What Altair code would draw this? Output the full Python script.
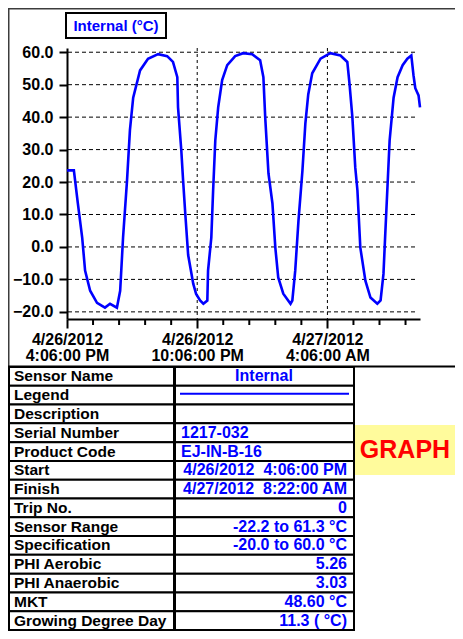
import altair as alt
import pandas as pd

# ---------------- data ----------------
times = [
    "2012-04-26T16:06", "2012-04-26T16:25", "2012-04-26T16:36", "2012-04-26T16:48",
    "2012-04-26T16:56", "2012-04-26T17:10", "2012-04-26T17:29", "2012-04-26T17:51",
    "2012-04-26T18:05", "2012-04-26T18:24", "2012-04-26T18:33", "2012-04-26T18:41",
    "2012-04-26T18:52", "2012-04-26T19:00", "2012-04-26T19:09", "2012-04-26T19:28",
    "2012-04-26T19:50", "2012-04-26T20:18", "2012-04-26T20:43", "2012-04-26T20:59",
    "2012-04-26T21:11", "2012-04-26T21:13", "2012-04-26T21:22", "2012-04-26T21:27",
    "2012-04-26T21:33", "2012-04-26T21:41", "2012-04-26T21:55", "2012-04-26T22:03",
    "2012-04-26T22:14", "2012-04-26T22:23", "2012-04-26T22:34", "2012-04-26T22:36",
    "2012-04-26T22:45", "2012-04-26T22:50", "2012-04-26T22:56", "2012-04-26T23:04",
    "2012-04-26T23:15", "2012-04-26T23:29", "2012-04-26T23:51", "2012-04-27T00:13",
    "2012-04-27T00:38", "2012-04-27T01:00", "2012-04-27T01:09", "2012-04-27T01:14",
    "2012-04-27T01:23", "2012-04-27T01:34", "2012-04-27T01:42", "2012-04-27T01:50",
    "2012-04-27T02:04", "2012-04-27T02:24", "2012-04-27T02:29", "2012-04-27T02:37",
    "2012-04-27T02:46", "2012-04-27T02:57", "2012-04-27T03:05", "2012-04-27T03:13",
    "2012-04-27T03:24", "2012-04-27T03:47", "2012-04-27T04:14", "2012-04-27T04:42",
    "2012-04-27T05:01", "2012-04-27T05:07", "2012-04-27T05:15", "2012-04-27T05:23",
    "2012-04-27T05:29", "2012-04-27T05:37", "2012-04-27T05:51", "2012-04-27T06:05",
    "2012-04-27T06:24", "2012-04-27T06:33", "2012-04-27T06:41", "2012-04-27T06:46",
    "2012-04-27T06:52", "2012-04-27T06:58", "2012-04-27T07:09", "2012-04-27T07:20",
    "2012-04-27T07:34", "2012-04-27T07:47", "2012-04-27T07:58", "2012-04-27T08:04",
    "2012-04-27T08:09", "2012-04-27T08:18", "2012-04-27T08:22",
]
temps = [
    23.6, 23.6, 13.4, 2.9,
    -7.3, -13.5, -17.2, -18.7,
    -17.5, -18.7, -13.5, 2.9,
    20.5, 36.0, 46.0, 54.4,
    58.0, 59.4, 58.8, 57.0,
    52.3, 43.0, 29.8, 20.5,
    10.3, -2.5, -11.3, -14.5,
    -16.5, -17.5, -16.5, -7.3,
    2.9, 17.4, 32.8, 43.0,
    51.4, 56.0, 58.8, 59.7,
    59.4, 57.5, 52.3, 40.0,
    22.7, 13.4, -0.2, -9.4,
    -14.4, -17.5, -16.5, -7.3,
    8.1, 23.6, 38.0, 47.0,
    53.5, 58.0, 59.7, 59.0,
    57.0, 50.4, 40.0, 24.5,
    17.4, -0.2, -10.4, -15.6,
    -17.5, -16.5, -8.3, 4.1,
    18.4, 32.8, 46.0, 52.3,
    56.0, 58.0, 59.0, 52.9,
    48.9, 46.7, 43.0,
]
y_ticks = [-20, -10, 0, 10, 20, 30, 40, 50, 60]
y_range = [-22.2, 61.3]
x_range = ["2012-04-26T16:06", "2012-04-27T08:22"]
major_ticks = ["2012-04-26T16:06", "2012-04-26T22:06", "2012-04-27T04:06"]
minor_ticks = ["2012-04-26T17:18", "2012-04-26T18:30", "2012-04-26T19:42",
               "2012-04-26T20:54", "2012-04-26T23:18", "2012-04-27T00:30",
               "2012-04-27T01:42", "2012-04-27T02:54", "2012-04-27T05:18",
               "2012-04-27T06:30", "2012-04-27T07:42"]
series_title = "Internal (°C)"
row_labels = ["Sensor Name", "Legend", "Description", "Serial Number",
              "Product Code", "Start", "Finish", "Trip No.", "Sensor Range",
              "Specification", "PHI Aerobic", "PHI Anaerobic", "MKT",
              "Growing Degree Day"]
row_values = ["Internal", "", "", "1217-032", "EJ-IN-B-16",
              "4/26/2012 \u00a04:06:00 PM", "4/27/2012 \u00a08:22:00 AM", "0",
              "-22.2 to 61.3 °C", "-20.0 to 60.0 °C", "5.26", "3.03",
              "48.60 °C", "11.3 ( °C)"]
row_align = ["center", "line", "none", "left", "left", "right", "right",
             "right", "right", "right", "right", "right", "right", "right"]
badge_text = "GRAPH"

# ---------------- layout constants ----------------
W, H = 353, 271
PAD = {"left": 59, "top": 40, "right": 35, "bottom": 312}
RIGHT_EDGE = W + PAD["right"]
BOTTOM_EDGE = H + PAD["bottom"]
FONT = "Liberation Sans, Arial, sans-serif"
BLUE = "#0000FF"
TABLE_TOP = 319.0
ROW_H = (BOTTOM_EDGE - 1 - TABLE_TOP) / len(row_labels)
LEFT_X0, LEFT_X1 = -58, 107
RIGHT_X0, RIGHT_X1 = 108, 287


def dt(s):
    t = pd.Timestamp(s)
    return alt.DateTime(year=t.year, month=t.month, date=t.day,
                        hours=t.hour, minutes=t.minute)


x_scale = alt.Scale(domain=[dt(s) for s in x_range])
y_scale = alt.Scale(domain=y_range, nice=False, zero=False)

x_axis = alt.Axis(
    values=[dt(s) for s in major_ticks],
    labelExpr="[timeFormat(datum.value, '%-m/%-d/%Y'), timeFormat(datum.value, '%-I:%M:%S %p')]",
    title=None, grid=False, domainColor="black", domainWidth=2,
    tickColor="black", tickWidth=2, tickSize=9,
    labelFont=FONT, labelFontSize=16, labelFontWeight="bold", labelColor="black",
    labelPadding=3, labelLineHeight=16.5, labelFlush=False, labelOverlap=False,
)
y_axis = alt.Axis(
    values=y_ticks, format=".1f", title=None, grid=False,
    domainColor="black", domainWidth=2, tickColor="black", tickWidth=2, tickSize=8,
    labelFont=FONT, labelFontSize=16, labelFontWeight="bold", labelColor="black",
    labelPadding=6,
)
X = alt.X("time:T", scale=x_scale, axis=x_axis)
Y = alt.Y("temp:Q", scale=y_scale, axis=y_axis)

one = pd.DataFrame({"k": [0]})

# ---------------- plot layers ----------------
curve = pd.DataFrame({"time": times, "temp": temps})
hgrid = alt.Chart(pd.DataFrame({"temp": y_ticks})).mark_rule(
    color="black", strokeWidth=1, strokeDash=[4, 3]
).encode(y=Y, x=alt.value(1), x2=alt.value(348))
vgrid = alt.Chart(pd.DataFrame({"time": major_ticks[1:]})).mark_rule(
    color="black", strokeWidth=1, strokeDash=[3, 3]
).encode(x=X, y=alt.value(0), y2=alt.value(H))
minor = alt.Chart(pd.DataFrame({"time": minor_ticks})).mark_rule(
    color="black", strokeWidth=2
).encode(x=X, y=alt.value(H), y2=alt.value(H + 6))
line = alt.Chart(curve).mark_line(color=BLUE, strokeWidth=2.6).encode(x=X, y=Y)

# title box
tbox = alt.Chart(one).mark_rect(fill="white", stroke="black", strokeWidth=2).encode(
    x=alt.value(-1), x2=alt.value(99), y=alt.value(-35), y2=alt.value(-10))
ttext = alt.Chart(pd.DataFrame({"t": [series_title]})).mark_text(
    font=FONT, fontSize=15, fontWeight="bold", color=BLUE, baseline="middle", align="center"
).encode(x=alt.value(49), y=alt.value(-22), text="t:N")

# outer frame
frame_left = alt.Chart(one).mark_rect(color="#3c3c3c").encode(
    x=alt.value(-59), x2=alt.value(-57.5), y=alt.value(-40), y2=alt.value(BOTTOM_EDGE))
frame_top = alt.Chart(one).mark_rect(color="#3c3c3c").encode(
    x=alt.value(-59), x2=alt.value(RIGHT_EDGE), y=alt.value(-40), y2=alt.value(-38.5))

# ---------------- table ----------------
n = len(row_labels)
tbl = pd.DataFrame({
    "label": row_labels,
    "value": row_values,
    "align": row_align,
    "y0": [TABLE_TOP + i * ROW_H for i in range(n)],
    "y1": [TABLE_TOP + (i + 1) * ROW_H for i in range(n)],
    "yc": [TABLE_TOP + (i + 0.5) * ROW_H for i in range(n)],
})
cells = []
for cx0, cx1 in [(LEFT_X0, LEFT_X1), (RIGHT_X0, RIGHT_X1)]:
    d = tbl.assign(cx0=cx0, cx1=cx1)
    cells.append(alt.Chart(d).mark_rect(fill="white", stroke="black", strokeWidth=2).encode(
        x=alt.X("cx0:Q", scale=None), x2="cx1:Q",
        y=alt.Y("y0:Q", scale=None), y2="y1:Q"))

top_line = alt.Chart(one).mark_rect(color="black").encode(
    x=alt.value(-59), x2=alt.value(RIGHT_EDGE), y=alt.value(TABLE_TOP - 1.5), y2=alt.value(TABLE_TOP + 0.5))

label_text = alt.Chart(tbl).mark_text(
    font=FONT, fontSize=15.5, fontWeight="bold", color="black", align="left", baseline="middle"
).encode(x=alt.value(-53), y=alt.Y("yc:Q", scale=None), text="label:N")

value_layers = []
for al, xv in [("left", 114), ("center", 197), ("right", 280)]:
    value_layers.append(alt.Chart(tbl).transform_filter(
        alt.datum.align == al
    ).mark_text(
        font=FONT, fontSize=16, fontWeight="bold", color=BLUE, align=al, baseline="middle"
    ).encode(x=alt.value(xv), y=alt.Y("yc:Q", scale=None), text="value:N"))

legend_line = alt.Chart(tbl).transform_filter(alt.datum.align == "line").transform_calculate(
    ym="datum.yc - 1.5"
).mark_rule(color=BLUE, strokeWidth=2).encode(
    x=alt.value(113), x2=alt.value(282), y=alt.Y("ym:Q", scale=None))

# badge
badge_box = alt.Chart(one).mark_rect(color="#FFFB9C").encode(
    x=alt.value(288), x2=alt.value(RIGHT_EDGE), y=alt.value(377), y2=alt.value(427))
badge = alt.Chart(pd.DataFrame({"t": [badge_text]})).mark_text(
    font=FONT, fontSize=25, fontWeight="bold", color="#FF0000", align="center", baseline="middle"
).encode(x=alt.value((288 + RIGHT_EDGE) / 2), y=alt.value(402), text="t:N")

chart = alt.layer(
    hgrid, vgrid, line, minor, tbox, ttext, frame_left, frame_top,
    *cells, top_line, label_text, *value_layers, legend_line, badge_box, badge
).properties(
    width=W, height=H,
    autosize=alt.AutoSizeParams(type="none"),
    padding=PAD,
    background="white",
).configure_view(stroke=None)

chart.save("out.html", embed_options={"renderer": "svg", "actions": False})
